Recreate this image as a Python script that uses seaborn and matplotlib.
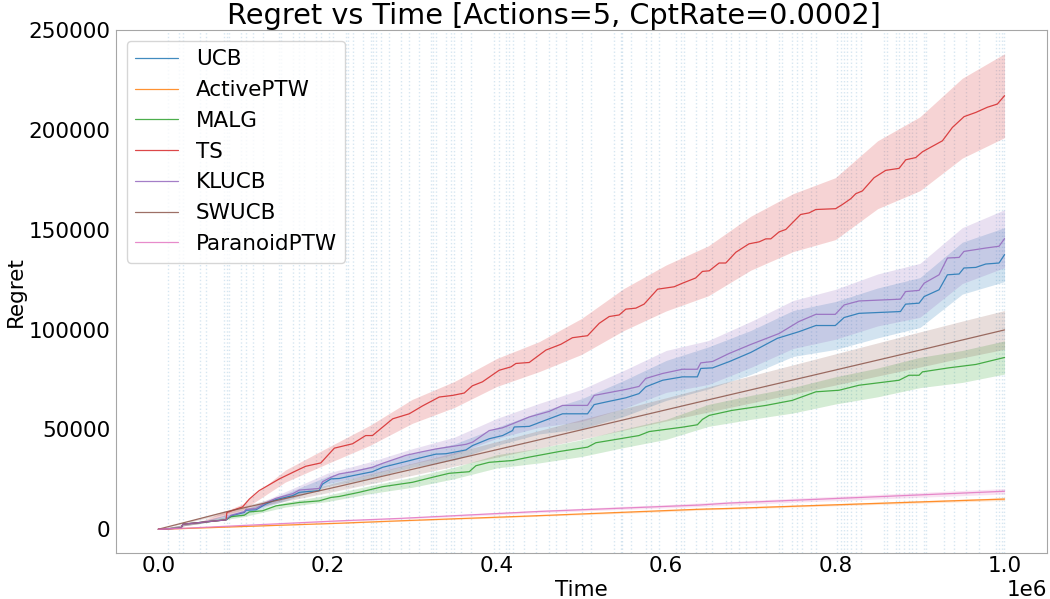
import numpy as np
import pandas as pd
import matplotlib
matplotlib.use("Agg")
import matplotlib.pyplot as plt
import seaborn as sns

# change points (time steps)
change_points = [
    11000, 24800, 28700, 49300, 56300, 78000, 81200, 83900, 97700, 103600,
    111400, 123200, 142900, 144900, 158700, 166600, 172500, 186300, 192200, 202000,
    205900, 221700, 223600, 229500, 241300, 251300, 253200, 257200, 263100, 272900,
    286700, 296500, 308300, 322200, 324000, 328100, 339900, 345800, 349700, 357600,
    369400, 396900, 402800, 410800, 414600, 418600, 432400, 446200, 461900, 469800,
    481600, 501200, 511200, 538700, 546600, 548500, 558400, 576100, 582000, 591800,
    611600, 617500, 621400, 635200, 647000, 654800, 670600, 676500, 686300, 694300,
    706100, 717900, 733600, 737500, 749300, 755200, 761100, 771100, 777000, 802500,
    806500, 810400, 814300, 818300, 824200, 830100, 857700, 861500, 871500, 875400,
    881300, 887200, 891100, 895100, 904900, 906900, 928500, 940300, 954200, 969900,
    989600, 993500, 997400, 999400,
]

algorithms = ["UCB", "ActivePTW", "MALG", "TS", "KLUCB", "SWUCB", "ParanoidPTW"]

# mean regret curves (time in steps, regret)
ucb_t = [0, 27000, 29000, 80000, 86000, 101600, 103600, 115400, 127000, 139000,
         158700, 166600, 190000, 194000, 204000, 213800, 229600, 253000, 265000, 292600,
         308300, 328000, 340000, 363500, 371400, 391000, 406800, 418600, 420600, 438300,
         461900, 477700, 507200, 515000, 529000, 552500, 568000, 576000, 596000, 619400,
         637000, 641000, 655000, 674500, 700000, 731600, 757000, 777000, 800000, 810400,
         828000, 877000, 883000, 899000, 905000, 922600, 932500, 946300, 952000, 966000,
         977800, 993500, 1000000]
ucb_y = [0, 600, 2500, 4700, 6700, 8400, 9500, 9700, 12600, 14800,
         16800, 18500, 19300, 22600, 25200, 25400, 26800, 28800, 31000, 33900,
         35600, 37600, 37800, 39700, 41900, 45300, 46900, 49400, 51200, 51500,
         55300, 57800, 57800, 62400, 63700, 65800, 67900, 71300, 74600, 76300,
         76300, 80500, 80800, 83900, 88500, 95600, 98900, 102000, 102000, 106000,
         108100, 109000, 112700, 113200, 116500, 119900, 127400, 127800, 130800, 131100,
         132800, 133300, 137500]

klucb_t = [0, 27000, 29000, 80000, 86000, 101600, 103600, 115400, 127000, 139000,
           158700, 166600, 190000, 194000, 204000, 213800, 229600, 253000, 265000, 292600,
           308300, 328000, 363500, 371400, 391000, 406800, 418600, 438300, 461900, 477700,
           507200, 515000, 552500, 568000, 576000, 596000, 619400, 637000, 641000, 655000,
           674500, 700000, 733600, 757000, 777000, 800000, 810400, 828000, 877000, 883000,
           899000, 905000, 922600, 932500, 946300, 952000, 977800, 993500, 1000000]
klucb_y = [0, 600, 2500, 4700, 7000, 8800, 10000, 10300, 13200, 15500,
           17800, 19600, 20400, 23800, 26000, 27700, 28800, 31000, 33000, 37000,
           38500, 40200, 42500, 43600, 49400, 50800, 52800, 56200, 59000, 62000,
           62000, 67000, 70000, 71500, 75500, 78000, 80100, 80100, 83300, 84000,
           88000, 92500, 98000, 104000, 107600, 107600, 112300, 114300, 115200, 119000,
           119600, 123200, 127400, 135800, 136100, 139100, 140800, 141700, 145500]

malg_t = [0, 27000, 29000, 80000, 86000, 101600, 107500, 123000, 139000, 166600,
          190000, 204000, 213800, 237500, 265000, 300400, 324000, 343700, 367400, 375300,
          391000, 418600, 438300, 473700, 507200, 517000, 532800, 568000, 580000, 619400,
          637000, 643000, 651000, 678000, 718000, 749000, 777000, 804500, 828000, 875400,
          887000, 899000, 903000, 934000, 966000, 1000000]
malg_y = [0, 600, 2500, 4700, 6300, 7000, 8700, 9200, 11700, 13400,
          14200, 15900, 16400, 18500, 21300, 23500, 26000, 28000, 28800, 31800,
          33500, 34400, 36100, 38900, 41100, 43300, 44400, 46900, 48900, 51100,
          52300, 55000, 57000, 59500, 62000, 64500, 68800, 69600, 72100, 74600,
          77100, 77100, 78800, 80800, 82500, 86000]

ts_t = [0, 27000, 29000, 80000, 81000, 99600, 107500, 119000, 143000, 163000,
        174000, 192000, 208000, 229600, 245000, 253000, 277000, 296500, 312000, 332000,
        347700, 361500, 371000, 383000, 402800, 416700, 422600, 438300, 458000, 475700,
        489400, 507200, 521000, 532800, 544600, 552500, 564300, 574000, 590000, 609600,
        619400, 635000, 643000, 651000, 662700, 670600, 682500, 698000, 710000, 717900,
        723800, 733600, 741500, 759000, 769000, 777000, 800400, 808400, 818300, 824200,
        832000, 845800, 859600, 875400, 883300, 895100, 903000, 926600, 938400, 952200,
        966000, 979700, 991500, 1000000]
ts_y = [0, 600, 2500, 4700, 8400, 11200, 15100, 19300, 25200, 29300,
        31500, 33200, 40600, 42800, 46900, 46900, 55300, 57800, 61700, 66200,
        67000, 68200, 71800, 73800, 79600, 81300, 83000, 83500, 89700, 92600,
        95900, 96900, 103100, 106500, 107300, 110200, 110700, 112700, 120200, 121400,
        123200, 125800, 129100, 129400, 133300, 133300, 138700, 142900, 143900, 145400,
        145400, 148900, 150100, 157600, 158400, 160100, 160500, 162600, 165500, 168000,
        169400, 176000, 179700, 180700, 185000, 186100, 189000, 194500, 201200, 206600,
        208700, 211300, 212900, 217100]

swucb_t = [0, 80000, 213800, 438300, 639000, 875400, 1000000]
swucb_y = [0, 8700, 21500, 43600, 63700, 87200, 99800]

active_t = [0, 27000, 213800, 284700, 450000, 639000, 674500, 1000000]
active_y = [0, 300, 3000, 4200, 6800, 10000, 10400, 15100]

paranoid_t = [0, 27000, 213800, 284700, 450000, 639000, 674500, 1000000]
paranoid_y = [0, 400, 4200, 5400, 8900, 12100, 13100, 19000]

# confidence bands on a coarse grid: centre and half-width
band_t = [0, 50000, 100000, 150000, 200000, 250000, 300000, 350000, 400000, 450000, 500000,
          550000, 600000, 650000, 700000, 750000, 800000, 850000, 900000, 950000, 1000000]
ucb_mid = [0, 3400, 8300, 16000, 24000, 28500, 34500, 38700, 46500, 53200, 57800,
           65500, 74500, 80800, 88500, 98000, 102000, 108300, 113500, 130700, 137500]
ucb_err = [0, 500, 1000, 1800, 2500, 3000, 3500, 4000, 4500, 5500, 7500,
           9000, 10000, 10500, 11000, 11500, 12000, 12500, 12500, 13000, 13500]
klucb_mid = [0, 3400, 8600, 17000, 25500, 30500, 36500, 41800, 50500, 57000, 62000,
             70000, 79000, 83500, 92500, 102500, 107600, 114800, 119600, 137000, 145500]
klucb_err = [0, 500, 1000, 1800, 2600, 3200, 3800, 4300, 5000, 6000, 8000,
             9500, 10500, 11000, 11500, 12000, 12500, 13000, 13500, 14000, 14500]
malg_mid = [0, 3400, 7000, 12300, 15500, 19800, 23500, 28200, 34000, 36900, 40600,
            45500, 50000, 57000, 61000, 64600, 69500, 73500, 78500, 81500, 86000]
malg_err = [0, 400, 800, 1200, 1600, 2000, 2500, 2900, 3300, 3700, 4200,
            4600, 5000, 5500, 6000, 6400, 6800, 7200, 7600, 8000, 8300]
ts_mid = [0, 3400, 11200, 26600, 36900, 47000, 59000, 67500, 78500, 86400, 96500,
          110000, 120800, 129400, 143200, 153500, 160500, 177500, 188000, 205800, 217100]
ts_err = [0, 500, 1500, 3000, 4000, 5000, 6000, 6500, 7000, 7500, 9000,
          10500, 11500, 12500, 13500, 14500, 15500, 17000, 18500, 20000, 21000]
swucb_mid = [0, 5400, 10500, 15500, 20300, 25200, 30000, 35000, 40000, 45000, 50000,
             55000, 60000, 65000, 70000, 75000, 80000, 85000, 90000, 95000, 99800]
swucb_err = [0, 500, 1000, 1500, 2000, 2500, 3000, 3400, 3900, 4400, 4900,
             5400, 5800, 6300, 6800, 7300, 7800, 8300, 8800, 9200, 9700]
active_mid = [0, 600, 1400, 2100, 2800, 3600, 4400, 5200, 5900, 6800, 7600,
              8400, 9200, 10200, 10800, 11600, 12300, 13000, 13700, 14400, 15100]
active_err = [0, 50, 100, 100, 150, 200, 200, 250, 300, 300, 350,
              400, 400, 450, 500, 500, 550, 600, 600, 650, 700]
paranoid_mid = [0, 800, 1900, 2900, 3900, 4800, 5700, 6700, 7800, 8900, 9800,
                10700, 11500, 12500, 13500, 14500, 15400, 16300, 17200, 18100, 19000]
paranoid_err = [0, 100, 150, 200, 300, 350, 400, 500, 550, 600, 700,
                750, 800, 900, 950, 1000, 1100, 1150, 1200, 1300, 1350]

curves = {
    "UCB": (ucb_t, ucb_y, ucb_mid, ucb_err),
    "ActivePTW": (active_t, active_y, active_mid, active_err),
    "MALG": (malg_t, malg_y, malg_mid, malg_err),
    "TS": (ts_t, ts_y, ts_mid, ts_err),
    "KLUCB": (klucb_t, klucb_y, klucb_mid, klucb_err),
    "SWUCB": (swucb_t, swucb_y, swucb_mid, swucb_err),
    "ParanoidPTW": (paranoid_t, paranoid_y, paranoid_mid, paranoid_err),
}

rows = []
for name in algorithms:
    t, y = curves[name][0], curves[name][1]
    rows += [{"Time": a, "Regret": b, "Algorithm": name} for a, b in zip(t, y)]
df = pd.DataFrame(rows)

sns.set_style("white")
plt.rcParams.update({
    "font.family": ["DejaVu Sans"],
    "axes.edgecolor": "0.65",
    "text.color": "black",
    "axes.labelcolor": "black",
    "xtick.color": "black",
    "ytick.color": "black",
})

fig, ax = plt.subplots(figsize=(10.5, 5.99), dpi=100)
fig.subplots_adjust(left=0.1105, right=0.997, top=0.950, bottom=0.0768)

colors = sns.color_palette("tab10", len(algorithms))
sns.lineplot(data=df, x="Time", y="Regret", hue="Algorithm", hue_order=algorithms,
             palette=colors, estimator=None, errorbar=None, linewidth=0.9, alpha=0.85, ax=ax)

for name, c in zip(algorithms, colors):
    mid = np.array(curves[name][2])
    err = np.array(curves[name][3])
    ax.fill_between(band_t, mid - err, mid + err, color=c, alpha=0.2, linewidth=0)

for cp in change_points:
    ax.axvline(cp, color="tab:blue", linestyle=":", linewidth=1, alpha=0.18, zorder=0)

ax.set_title("Regret vs Time [Actions=5, CptRate=0.0002]", fontsize=20.7, pad=4, x=0.4705)
ax.set_xlabel("Time", fontsize=15.5, labelpad=3)
ax.set_ylabel("Regret", fontsize=15.5, labelpad=2)
ax.tick_params(axis="both", labelsize=15.5, length=0)
ax.tick_params(axis="x", pad=2)
ax.tick_params(axis="y", pad=4)
ax.xaxis.get_offset_text().set_fontsize(15.5)
ax.legend(loc="upper left", fontsize=15.5)

plt.savefig("out.png", dpi=100)
